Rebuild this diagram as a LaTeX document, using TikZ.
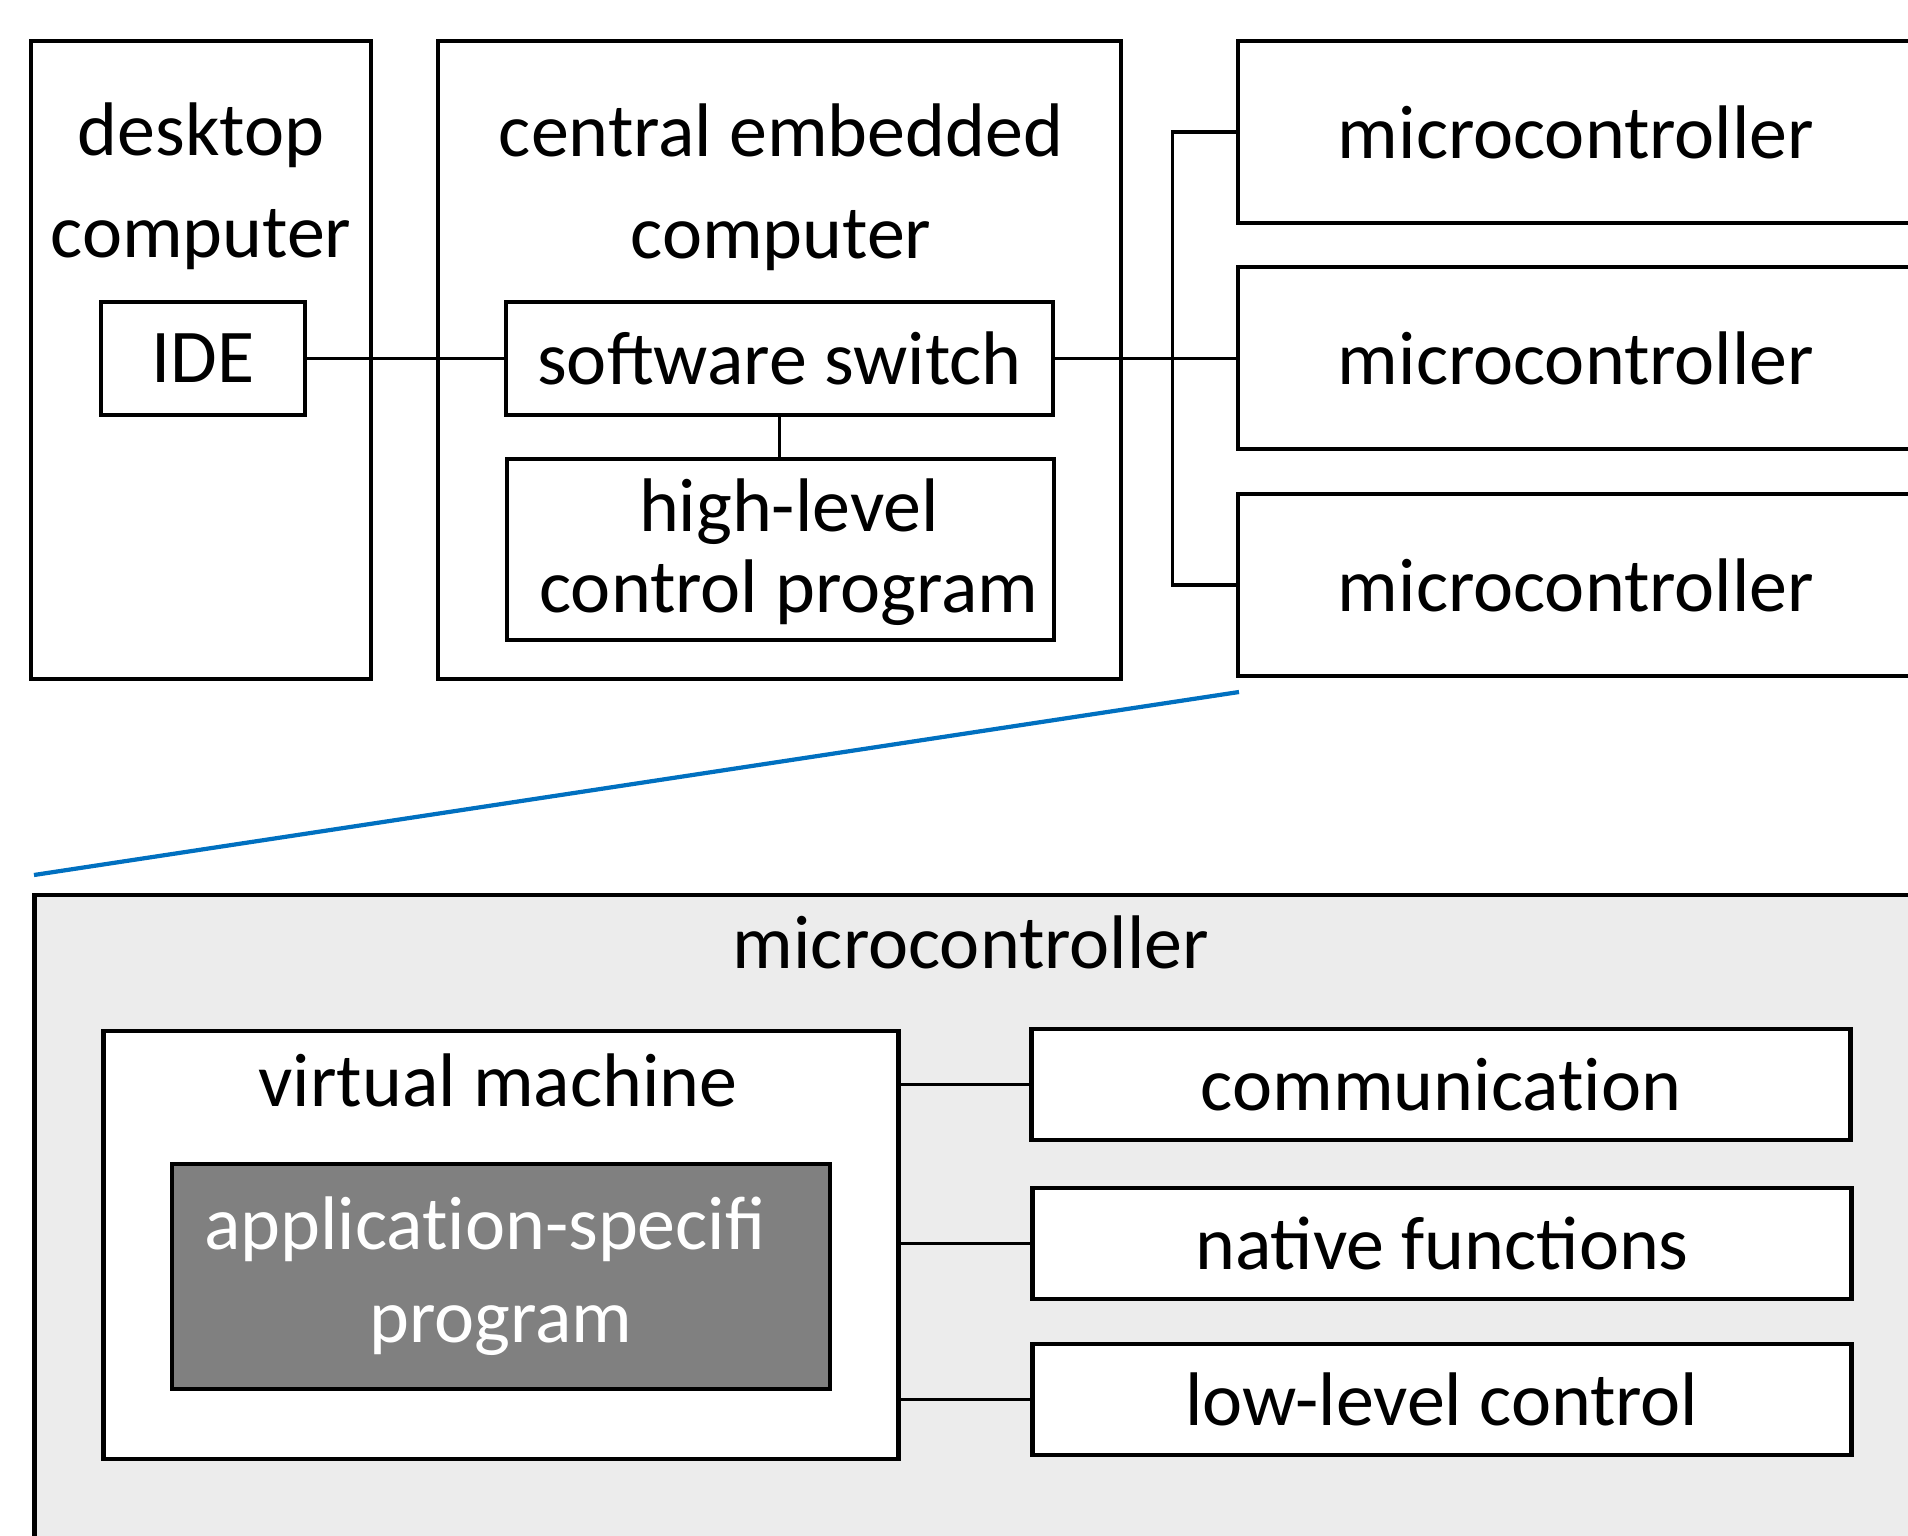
\documentclass[tikz,border=0pt]{standalone}
\usepackage{fontspec}
\setmainfont{Carlito}
\definecolor{panelgray}{RGB}{236,236,236}
\definecolor{appgray}{RGB}{128,128,128}
\definecolor{zoomblue}{RGB}{0,112,192}
% keep "t" and "i" as separate glyphs
\newcommand{\tnoi}{t\kern0pt i}
\begin{document}
\begin{tikzpicture}[x=0.01cm, y=-0.01cm,
  box/.style={draw=black, line width=1.3pt, fill=white, inner sep=0pt},
  lbl/.style={font=\fontsize{21.6}{29}\selectfont, align=center, inner sep=0pt},
  wire/.style={draw=black, line width=1.1pt},
  zoomline/.style={draw=zoomblue, line width=1.2pt}]

% page and clipping frame
\fill[white] (0,0) rectangle (1908,1536);
\clip (0,0) rectangle (1908,1536);

% ---- upper row: host, central computer, microcontrollers ----
\node[box, minimum width=3.40cm, minimum height=6.38cm] (desk) at (201,360) {};
\node[lbl, anchor=base] (deskT) at (201,257) {desktop\\computer};

\node[box, minimum width=6.83cm, minimum height=6.38cm] (cec) at (779.5,360) {};
\node[lbl, anchor=base] (cecT) at (781,258) {central embedded\\computer};

\node[box, lbl, minimum width=2.04cm, minimum height=1.13cm] (ide) at (203,358.5) {IDE};
\node[box, lbl, minimum width=5.47cm, minimum height=1.13cm] (sw) at (779.5,358.5) {software switch};
\node[box, minimum width=5.47cm, minimum height=1.81cm] (hl) at (780.5,549.5) {};
\node[lbl, font=\fontsize{21.6}{22.8}\selectfont, anchor=base] (hlT) at (789,612) {high-level\\control program};

\node[box, lbl, minimum width=6.76cm, minimum height=1.82cm] (mc1) at (1576,132) {microcontroller};
\node[box, lbl, minimum width=6.76cm, minimum height=1.82cm] (mc2) at (1576,358) {microcontroller};
\node[box, lbl, minimum width=6.76cm, minimum height=1.82cm] (mc3) at (1576,585) {microcontroller};

\draw[wire] (ide.east) -- (ide.east -| sw.west);
\draw[wire] (sw.east) -- (sw.east -| mc2.west);
\draw[wire] (sw.south) -- (sw.south |- hl.north);
\draw[wire] (mc1.west) -- ++(-63,0) |- (mc3.west);

% ---- zoom indicator ----
\coordinate (zA) at (1239,692);
\coordinate (zB) at (34,875);
\draw[zoomline] (zA) -- (zB);

% ---- lower panel: inside one microcontroller ----
\node[box, fill=panelgray, minimum width=18.80cm, minimum height=7.05cm] (mcu) at (975,1247.5) {};
\node[lbl, anchor=base] (mcuT) at (971,968) {microcontroller};

\node[box, minimum width=7.94cm, minimum height=4.28cm] (vm) at (501,1245) {};
\node[lbl, anchor=base] (vmT) at (498,1106) {virtual machine};
\node[box, lbl, fill=appgray, text=white, minimum width=6.58cm, minimum height=2.25cm,
      font=\fontsize{21.6}{26.5}\selectfont] (app) at (501,1276.5) {applica\tnoi on-specifi\phantom{c}\\program};

\node[box, lbl, minimum width=8.18cm, minimum height=1.11cm] (comm) at (1441,1084.5) {communica\tnoi on};
\node[box, lbl, minimum width=8.18cm, minimum height=1.11cm] (nat) at (1442,1243.5) {native functions};
\node[box, lbl, minimum width=8.18cm, minimum height=1.11cm] (low) at (1442,1399.5) {low-level control};

\draw[wire] (vm.east |- comm.west) -- (comm.west);
\draw[wire] (vm.east |- nat.west) -- (nat.west);
\draw[wire] (vm.east |- low.west) -- (low.west);
\end{tikzpicture}
\end{document}
